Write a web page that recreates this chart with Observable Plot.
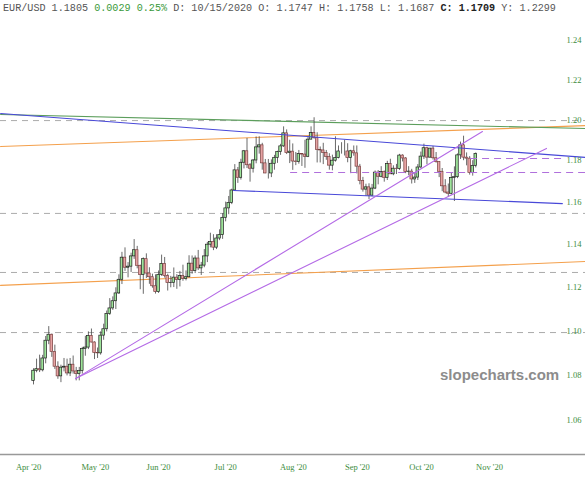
<!DOCTYPE html>
<html>
<head>
<meta charset="utf-8">
<script src="https://cdn.jsdelivr.net/npm/d3@7"></script>
<script src="https://cdn.jsdelivr.net/npm/@observablehq/plot@0.6"></script>
<style>
  body { margin: 0; background: #fff; }
  #wrap { position: relative; width: 585px; height: 480px; overflow: hidden; background: #fff; }
  #chart { position: absolute; left: 0; top: 0; }
  #hdr { position: absolute; left: 3px; top: 3px; font: 10.15px "Liberation Mono", "Courier New", monospace; color: #555; white-space: pre; }
  #hdr .g { color: #3a9a3a; }
  #hdr .b { color: #222; font-weight: bold; }
  #wm { position: absolute; left: 440px; top: 366px; font: bold 15px "Liberation Sans", Arial, sans-serif; color: #8c8c8c; }
</style>
</head>
<body>
<div id="wrap">
  <div id="chart"></div>
  <div id="hdr">EUR/USD 1.1805 <span class="g">0.0029 0.25%</span> D: 10/15/2020 O: 1.1747 H: 1.1758 L: 1.1687 <span class="b">C: 1.1709</span> Y: 1.2299</div>
  <div id="wm">slopecharts.com</div>
</div>
<script>
// ---- Daily candles (trading-day index order) ----
const dates = ["2020-04-24","2020-04-27","2020-04-28","2020-04-29","2020-04-30","2020-05-01","2020-05-04","2020-05-05","2020-05-06","2020-05-07","2020-05-08","2020-05-11","2020-05-12","2020-05-13","2020-05-14","2020-05-15","2020-05-18","2020-05-19","2020-05-20","2020-05-21","2020-05-22","2020-05-25","2020-05-26","2020-05-27","2020-05-28","2020-05-29","2020-06-01","2020-06-02","2020-06-03","2020-06-04","2020-06-05","2020-06-08","2020-06-09","2020-06-10","2020-06-11","2020-06-12","2020-06-15","2020-06-16","2020-06-17","2020-06-18","2020-06-19","2020-06-22","2020-06-23","2020-06-24","2020-06-25","2020-06-26","2020-06-29","2020-06-30","2020-07-01","2020-07-02","2020-07-03","2020-07-06","2020-07-07","2020-07-08","2020-07-09","2020-07-10","2020-07-13","2020-07-14","2020-07-15","2020-07-16","2020-07-17","2020-07-20","2020-07-21","2020-07-22","2020-07-23","2020-07-24","2020-07-27","2020-07-28","2020-07-29","2020-07-30","2020-07-31","2020-08-03","2020-08-04","2020-08-05","2020-08-06","2020-08-07","2020-08-10","2020-08-11","2020-08-12","2020-08-13","2020-08-14","2020-08-17","2020-08-18","2020-08-19","2020-08-20","2020-08-21","2020-08-24","2020-08-25","2020-08-26","2020-08-27","2020-08-28","2020-08-31","2020-09-01","2020-09-02","2020-09-03","2020-09-04","2020-09-07","2020-09-08","2020-09-09","2020-09-10","2020-09-11","2020-09-14","2020-09-15","2020-09-16","2020-09-17","2020-09-18","2020-09-21","2020-09-22","2020-09-23","2020-09-24","2020-09-25","2020-09-28","2020-09-29","2020-09-30","2020-10-01","2020-10-02","2020-10-05","2020-10-06","2020-10-07","2020-10-08","2020-10-09","2020-10-12","2020-10-13","2020-10-14","2020-10-15","2020-10-16","2020-10-19","2020-10-20","2020-10-21","2020-10-22","2020-10-23","2020-10-26","2020-10-27","2020-10-28","2020-10-29","2020-10-30","2020-11-02","2020-11-03","2020-11-04","2020-11-05","2020-11-06","2020-11-09","2020-11-10","2020-11-11","2020-11-12","2020-11-13"];
const opens  = [1.0775,1.0820,1.0827,1.0822,1.0875,1.0955,1.0982,1.0904,1.0838,1.0795,1.0834,1.0838,1.0808,1.0847,1.0817,1.0805,1.0819,1.0917,1.0924,1.0977,1.0947,1.0900,1.0898,1.0978,1.1007,1.1077,1.1102,1.1135,1.1171,1.1234,1.1337,1.1290,1.1295,1.1343,1.1372,1.1299,1.1256,1.1330,1.1263,1.1246,1.1204,1.1177,1.1257,1.1308,1.1251,1.1219,1.1220,1.1244,1.1233,1.1251,1.1238,1.1246,1.1309,1.1275,1.1333,1.1287,1.1300,1.1343,1.1398,1.1411,1.1384,1.1427,1.1443,1.1525,1.1570,1.1596,1.1656,1.1753,1.1717,1.1790,1.1846,1.1778,1.1761,1.1801,1.1865,1.1875,1.1787,1.1738,1.1738,1.1785,1.1814,1.1842,1.1870,1.1934,1.1837,1.1844,1.1796,1.1793,1.1832,1.1830,1.1819,1.1903,1.1935,1.1911,1.1853,1.1850,1.1838,1.1818,1.1776,1.1800,1.1813,1.1845,1.1845,1.1845,1.1813,1.1846,1.1836,1.1771,1.1701,1.1660,1.1671,1.1631,1.1665,1.1742,1.1722,1.1745,1.1717,1.1784,1.1734,1.1761,1.1760,1.1825,1.1811,1.1745,1.1747,1.1709,1.1718,1.1767,1.1820,1.1861,1.1815,1.1859,1.1812,1.1793,1.1746,1.1676,1.1646,1.1640,1.1716,1.1720,1.1826,1.1875,1.1815,1.1810,1.1740,1.1775];
const highs  = [1.0829,1.0872,1.0890,1.0889,1.0974,1.1019,1.0985,1.0935,1.0860,1.0845,1.0875,1.0872,1.0875,1.0886,1.0835,1.0835,1.0925,1.0975,1.0995,1.1008,1.0950,1.0922,1.0995,1.1030,1.1090,1.1147,1.1155,1.1197,1.1257,1.1362,1.1383,1.1314,1.1358,1.1422,1.1390,1.1302,1.1336,1.1355,1.1290,1.1260,1.1257,1.1275,1.1349,1.1338,1.1260,1.1250,1.1289,1.1258,1.1273,1.1302,1.1275,1.1346,1.1345,1.1345,1.1371,1.1315,1.1375,1.1409,1.1452,1.1445,1.1445,1.1468,1.1545,1.1600,1.1627,1.1662,1.1781,1.1767,1.1807,1.1850,1.1909,1.1786,1.1806,1.1916,1.1917,1.1885,1.1806,1.1806,1.1804,1.1826,1.1846,1.1880,1.1966,1.1951,1.1900,1.1882,1.1840,1.1850,1.1835,1.1900,1.1915,1.1966,1.2011,1.1937,1.1867,1.1885,1.1850,1.1834,1.1827,1.1917,1.1872,1.1888,1.1900,1.1883,1.1851,1.1872,1.1872,1.1782,1.1719,1.1686,1.1688,1.1685,1.1750,1.1752,1.1771,1.1750,1.1797,1.1807,1.1775,1.1782,1.1831,1.1829,1.1815,1.1771,1.1758,1.1739,1.1781,1.1842,1.1881,1.1866,1.1860,1.1870,1.1840,1.1795,1.1762,1.1708,1.1687,1.1740,1.1770,1.1833,1.1891,1.1920,1.1838,1.1820,1.1800,1.1838];
const lows   = [1.0757,1.0811,1.0812,1.0815,1.0851,1.0937,1.0880,1.0826,1.0782,1.0767,1.0815,1.0797,1.0794,1.0805,1.0775,1.0775,1.0805,1.0885,1.0915,1.0945,1.0870,1.0875,1.0890,1.0957,1.0995,1.1070,1.1093,1.1097,1.1166,1.1212,1.1273,1.1243,1.1268,1.1329,1.1285,1.1188,1.1167,1.1240,1.1213,1.1195,1.1168,1.1171,1.1250,1.1242,1.1182,1.1197,1.1198,1.1190,1.1201,1.1227,1.1229,1.1242,1.1260,1.1263,1.1277,1.1254,1.1290,1.1314,1.1383,1.1370,1.1375,1.1417,1.1423,1.1506,1.1540,1.1588,1.1651,1.1690,1.1706,1.1760,1.1762,1.1696,1.1740,1.1785,1.1832,1.1754,1.1737,1.1711,1.1718,1.1754,1.1787,1.1826,1.1865,1.1830,1.1786,1.1753,1.1776,1.1783,1.1772,1.1763,1.1815,1.1902,1.1905,1.1789,1.1789,1.1781,1.1802,1.1754,1.1751,1.1793,1.1809,1.1832,1.1823,1.1790,1.1737,1.1822,1.1736,1.1683,1.1648,1.1627,1.1612,1.1626,1.1660,1.1683,1.1717,1.1696,1.1704,1.1734,1.1727,1.1733,1.1753,1.1794,1.1737,1.1727,1.1687,1.1690,1.1704,1.1761,1.1806,1.1780,1.1812,1.1803,1.1788,1.1718,1.1650,1.1640,1.1622,1.1635,1.1603,1.1713,1.1806,1.1800,1.1775,1.1730,1.1725,1.1765];
const closes = [1.0820,1.0827,1.0822,1.0875,1.0955,1.0982,1.0904,1.0838,1.0795,1.0834,1.0838,1.0808,1.0847,1.0817,1.0805,1.0819,1.0917,1.0924,1.0977,1.0947,1.0900,1.0898,1.0978,1.1007,1.1077,1.1102,1.1135,1.1171,1.1234,1.1337,1.1290,1.1295,1.1343,1.1372,1.1299,1.1256,1.1330,1.1263,1.1246,1.1204,1.1177,1.1257,1.1308,1.1251,1.1219,1.1220,1.1244,1.1233,1.1251,1.1238,1.1246,1.1309,1.1275,1.1333,1.1287,1.1300,1.1343,1.1398,1.1411,1.1384,1.1427,1.1443,1.1525,1.1570,1.1596,1.1656,1.1753,1.1717,1.1790,1.1846,1.1778,1.1761,1.1801,1.1865,1.1875,1.1787,1.1738,1.1738,1.1785,1.1814,1.1842,1.1870,1.1934,1.1837,1.1844,1.1796,1.1793,1.1832,1.1830,1.1819,1.1903,1.1935,1.1911,1.1853,1.1850,1.1838,1.1818,1.1776,1.1800,1.1813,1.1845,1.1845,1.1845,1.1813,1.1846,1.1836,1.1771,1.1701,1.1660,1.1671,1.1631,1.1665,1.1742,1.1722,1.1745,1.1717,1.1784,1.1734,1.1761,1.1760,1.1825,1.1811,1.1745,1.1747,1.1709,1.1718,1.1767,1.1820,1.1861,1.1815,1.1859,1.1812,1.1793,1.1746,1.1676,1.1646,1.1640,1.1716,1.1720,1.1826,1.1875,1.1815,1.1810,1.1740,1.1775,1.1833];

// ---- Axis ticks ----
const yTicks = [1.06, 1.08, 1.10, 1.12, 1.14, 1.16, 1.18, 1.20, 1.22, 1.24];
const xTickIdx = [-1.6, 20.3, 41.0, 63.0, 85.2, 106.2, 127.2, 149.5];
const xTickLabels = ["Apr '20", "May '20", "Jun '20", "Jul '20", "Aug '20", "Sep '20", "Oct '20", "Nov '20"];

// ---- Drawn studies: [index, price] endpoints ----
const blueUpper   = [[-10.8, 1.2032], [181.0, 1.1816]];
const blueLower   = [[65.6, 1.1656], [173.4, 1.1593]];
const greenLine   = [[-10.8, 1.2027], [181.0, 1.1958]];
const orangeUpper = [[-10.8, 1.1869], [181.0, 1.1972]];
const orangeLower = [[-10.8, 1.1208], [181.0, 1.1319]];
const purpleA     = [[13.8, 1.0785], [147.2, 1.1943]];
const purpleB     = [[13.8, 1.0785], [168.2, 1.1860]];
const grayLevels  = [1.1997, 1.1546, 1.1268, 1.0992];
const purpleLevelP    = [1.1811, 1.1743];
const purpleLevelFrom = [143.3, 84.3];
const purpleLevelTo   = [173.8, 181.0];

const xDomain = [-10.82, 180.98];
const yDomain = [1.04524, 1.2503];

const candles = dates.map((d, i) => ({i, date: d, o: opens[i], h: highs[i], l: lows[i], c: closes[i], up: closes[i] >= opens[i]}));
const seg = (pts) => pts.map(([x, y]) => ({x, y}));
const purpleLevels = purpleLevelP.map((p, k) => ({p, x1: purpleLevelFrom[k], x2: purpleLevelTo[k]}));

const serif = "'Liberation Serif', 'Times New Roman', serif";

const chart = Plot.plot({
  width: 585,
  height: 480,
  marginTop: 20,
  marginBottom: 26,
  marginLeft: 0,
  marginRight: 0,
  style: {background: "transparent", overflow: "visible"},
  x: {type: "linear", domain: xDomain, axis: null},
  y: {type: "log", domain: yDomain, axis: null},
  marks: [
    Plot.ruleY(grayLevels, {stroke: "#ababab", strokeWidth: 1, strokeDasharray: "6,5"}),
    Plot.line(seg(orangeUpper), {x: "x", y: "y", stroke: "#f4a04c", strokeWidth: 1.1}),
    Plot.line(seg(orangeLower), {x: "x", y: "y", stroke: "#f4a04c", strokeWidth: 1.1}),
    Plot.line(seg(greenLine), {x: "x", y: "y", stroke: "#5c9e5c", strokeWidth: 1.1}),
    Plot.ruleX(candles, {x: "i", y1: "l", y2: "h", stroke: "#444", strokeWidth: 0.8}),
    Plot.rect(candles, {
      x1: d => d.i - 0.42, x2: d => d.i + 0.42,
      y1: "o", y2: "c",
      fill: d => d.up ? "#9ee49a" : "#e6a3a3",
      stroke: d => d.up ? "#1e1e1e" : "#7a4040",
      strokeWidth: 0.7
    }),
    Plot.line(seg(blueUpper), {x: "x", y: "y", stroke: "#4848d8", strokeWidth: 1.1}),
    Plot.line(seg(blueLower), {x: "x", y: "y", stroke: "#4848d8", strokeWidth: 1.1}),
    Plot.line(seg(purpleA), {x: "x", y: "y", stroke: "#b46ae6", strokeWidth: 1.1}),
    Plot.line(seg(purpleB), {x: "x", y: "y", stroke: "#b46ae6", strokeWidth: 1.1}),
    Plot.ruleY(purpleLevels, {y: "p", x1: "x1", x2: "x2", stroke: "#b070dc", strokeWidth: 1.1, strokeDasharray: "7,5"}),
    Plot.frame({anchor: "bottom", stroke: "#999", strokeWidth: 1.5}),
    Plot.axisY(yTicks, {
      anchor: "right", tickSize: 0, tickPadding: 0, dx: -19, textAnchor: "start",
      tickFormat: d3.format(".2f"), fill: "#3c8c3c", fontSize: 8.5, fontFamily: serif
    }),
    Plot.axisX(xTickIdx, {
      anchor: "bottom", tickSize: 0, tickPadding: 9,
      tickFormat: d => xTickLabels[xTickIdx.indexOf(d)],
      fill: "#3c8c3c", fontSize: 8.5, fontFamily: serif
    })
  ]
});
document.getElementById("chart").appendChild(chart);
</script>
</body>
</html>
